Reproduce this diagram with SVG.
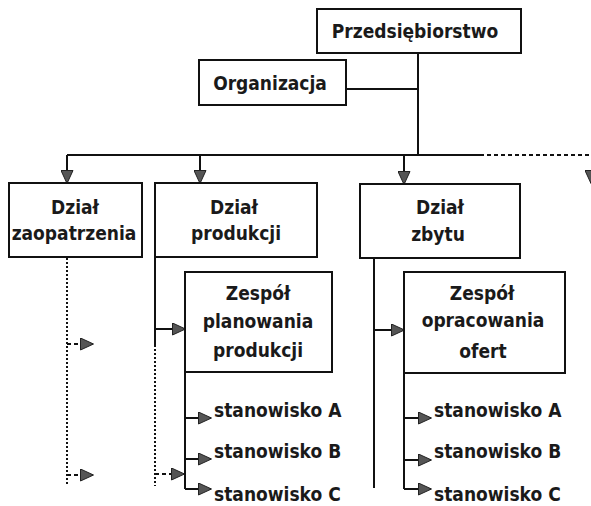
<svg xmlns="http://www.w3.org/2000/svg" width="591" height="506" viewBox="0 0 591 506">
  <style>
    .box { fill: #fff; stroke: #111; stroke-width: 2; }
    .lbl { font-family: "DejaVu Sans Condensed", "DejaVu Sans", sans-serif; font-weight: bold; font-size: 19px; fill: #1a1a1a; text-anchor: middle; }
    .st { font-family: "DejaVu Sans Condensed", "DejaVu Sans", sans-serif; font-weight: bold; font-size: 19px; fill: #1a1a1a; }
    .ln { fill: none; stroke: #111; stroke-width: 2; }
    .dot { fill: none; stroke: #111; stroke-width: 2; stroke-dasharray: 2 2; }
    .dash { fill: none; stroke: #111; stroke-width: 2; stroke-dasharray: 4 3; }
    .arr { marker-end: url(#ah); }
  </style>
  <defs>
    <marker id="ah" markerUnits="userSpaceOnUse" markerWidth="14" markerHeight="13" refX="13" refY="6.5" orient="auto" viewBox="0 0 14 13">
      <path d="M0.5,0.5 L13.5,6.5 L0.5,12.5 z" fill="#555" stroke="#222" stroke-width="1"/>
    </marker>
  </defs>

  <!-- connectors -->
  <g id="connectors">
    <path class="ln" d="M418,53 V155"/>
    <path class="ln" d="M346,89 H418"/>
    <path class="ln" d="M67,155 H480"/>
    <path class="dash" d="M480,155 H591"/>
    <path class="ln arr" d="M67,155 V183"/>
    <path class="ln arr" d="M200,155 V183"/>
    <path class="ln arr" d="M404,155 V184"/>
    <path class="ln arr" d="M591,172 V183"/>

    <!-- Dział zaopatrzenia -->
    <path class="dot" d="M67,258 V486"/>
    <path class="dash arr" d="M67,344 H93"/>
    <path class="dash arr" d="M67,475 H93"/>

    <!-- Dział produkcji -->
    <path class="ln" d="M155,258 V345"/>
    <path class="dot" d="M155,345 V486"/>
    <path class="ln arr" d="M155,329 H185"/>
    <path class="dash arr" d="M155,474 H184"/>
    <path class="ln" d="M185,372 V489"/>
    <path class="ln arr" d="M185,418 H211"/>
    <path class="ln arr" d="M185,459 H211"/>
    <path class="ln arr" d="M185,489 H211"/>

    <!-- Dział zbytu -->
    <path class="ln" d="M374,258 V488"/>
    <path class="ln arr" d="M374,330 H404"/>
    <path class="ln" d="M404,373 V489"/>
    <path class="ln arr" d="M404,418 H431"/>
    <path class="ln arr" d="M404,460 H431"/>
    <path class="ln arr" d="M404,489 H431"/>
  </g>

  <g id="przedsiebiorstwo">
    <rect class="box" x="317" y="9" width="204" height="44"/>
    <text class="lbl" x="415" y="38">Przedsiębiorstwo</text>
  </g>
  <g id="organizacja">
    <rect class="box" x="199" y="60" width="147" height="45"/>
    <text class="lbl" x="270" y="90">Organizacja</text>
  </g>
  <g id="dzial-zaopatrzenia">
    <rect class="box" x="9" y="183" width="133" height="74"/>
    <text class="lbl" x="75" y="214">Dział</text>
    <text class="lbl" x="74" y="240">zaopatrzenia</text>
  </g>
  <g id="dzial-produkcji">
    <rect class="box" x="155" y="183" width="162" height="74"/>
    <text class="lbl" x="234" y="214">Dział</text>
    <text class="lbl" x="236" y="240">produkcji</text>
  </g>
  <g id="dzial-zbytu">
    <rect class="box" x="360" y="184" width="160" height="74"/>
    <text class="lbl" x="440" y="214">Dział</text>
    <text class="lbl" x="438" y="241">zbytu</text>
  </g>
  <g id="zespol-planowania">
    <rect class="box" x="185" y="272" width="147" height="100"/>
    <text class="lbl" x="258" y="300">Zespół</text>
    <text class="lbl" x="258" y="328">planowania</text>
    <text class="lbl" x="258" y="357">produkcji</text>
  </g>
  <g id="zespol-opracowania">
    <rect class="box" x="404" y="272" width="161" height="101"/>
    <text class="lbl" x="482" y="300">Zespół</text>
    <text class="lbl" x="483" y="327">opracowania</text>
    <text class="lbl" x="483" y="358">ofert</text>
  </g>
  <g id="stanowiska-produkcja">
    <text class="st" x="214" y="417">stanowisko A</text>
    <text class="st" x="214" y="458">stanowisko B</text>
    <text class="st" x="214" y="501">stanowisko C</text>
  </g>
  <g id="stanowiska-zbyt">
    <text class="st" x="434" y="417">stanowisko A</text>
    <text class="st" x="434" y="458">stanowisko B</text>
    <text class="st" x="434" y="501">stanowisko C</text>
  </g>
</svg>
